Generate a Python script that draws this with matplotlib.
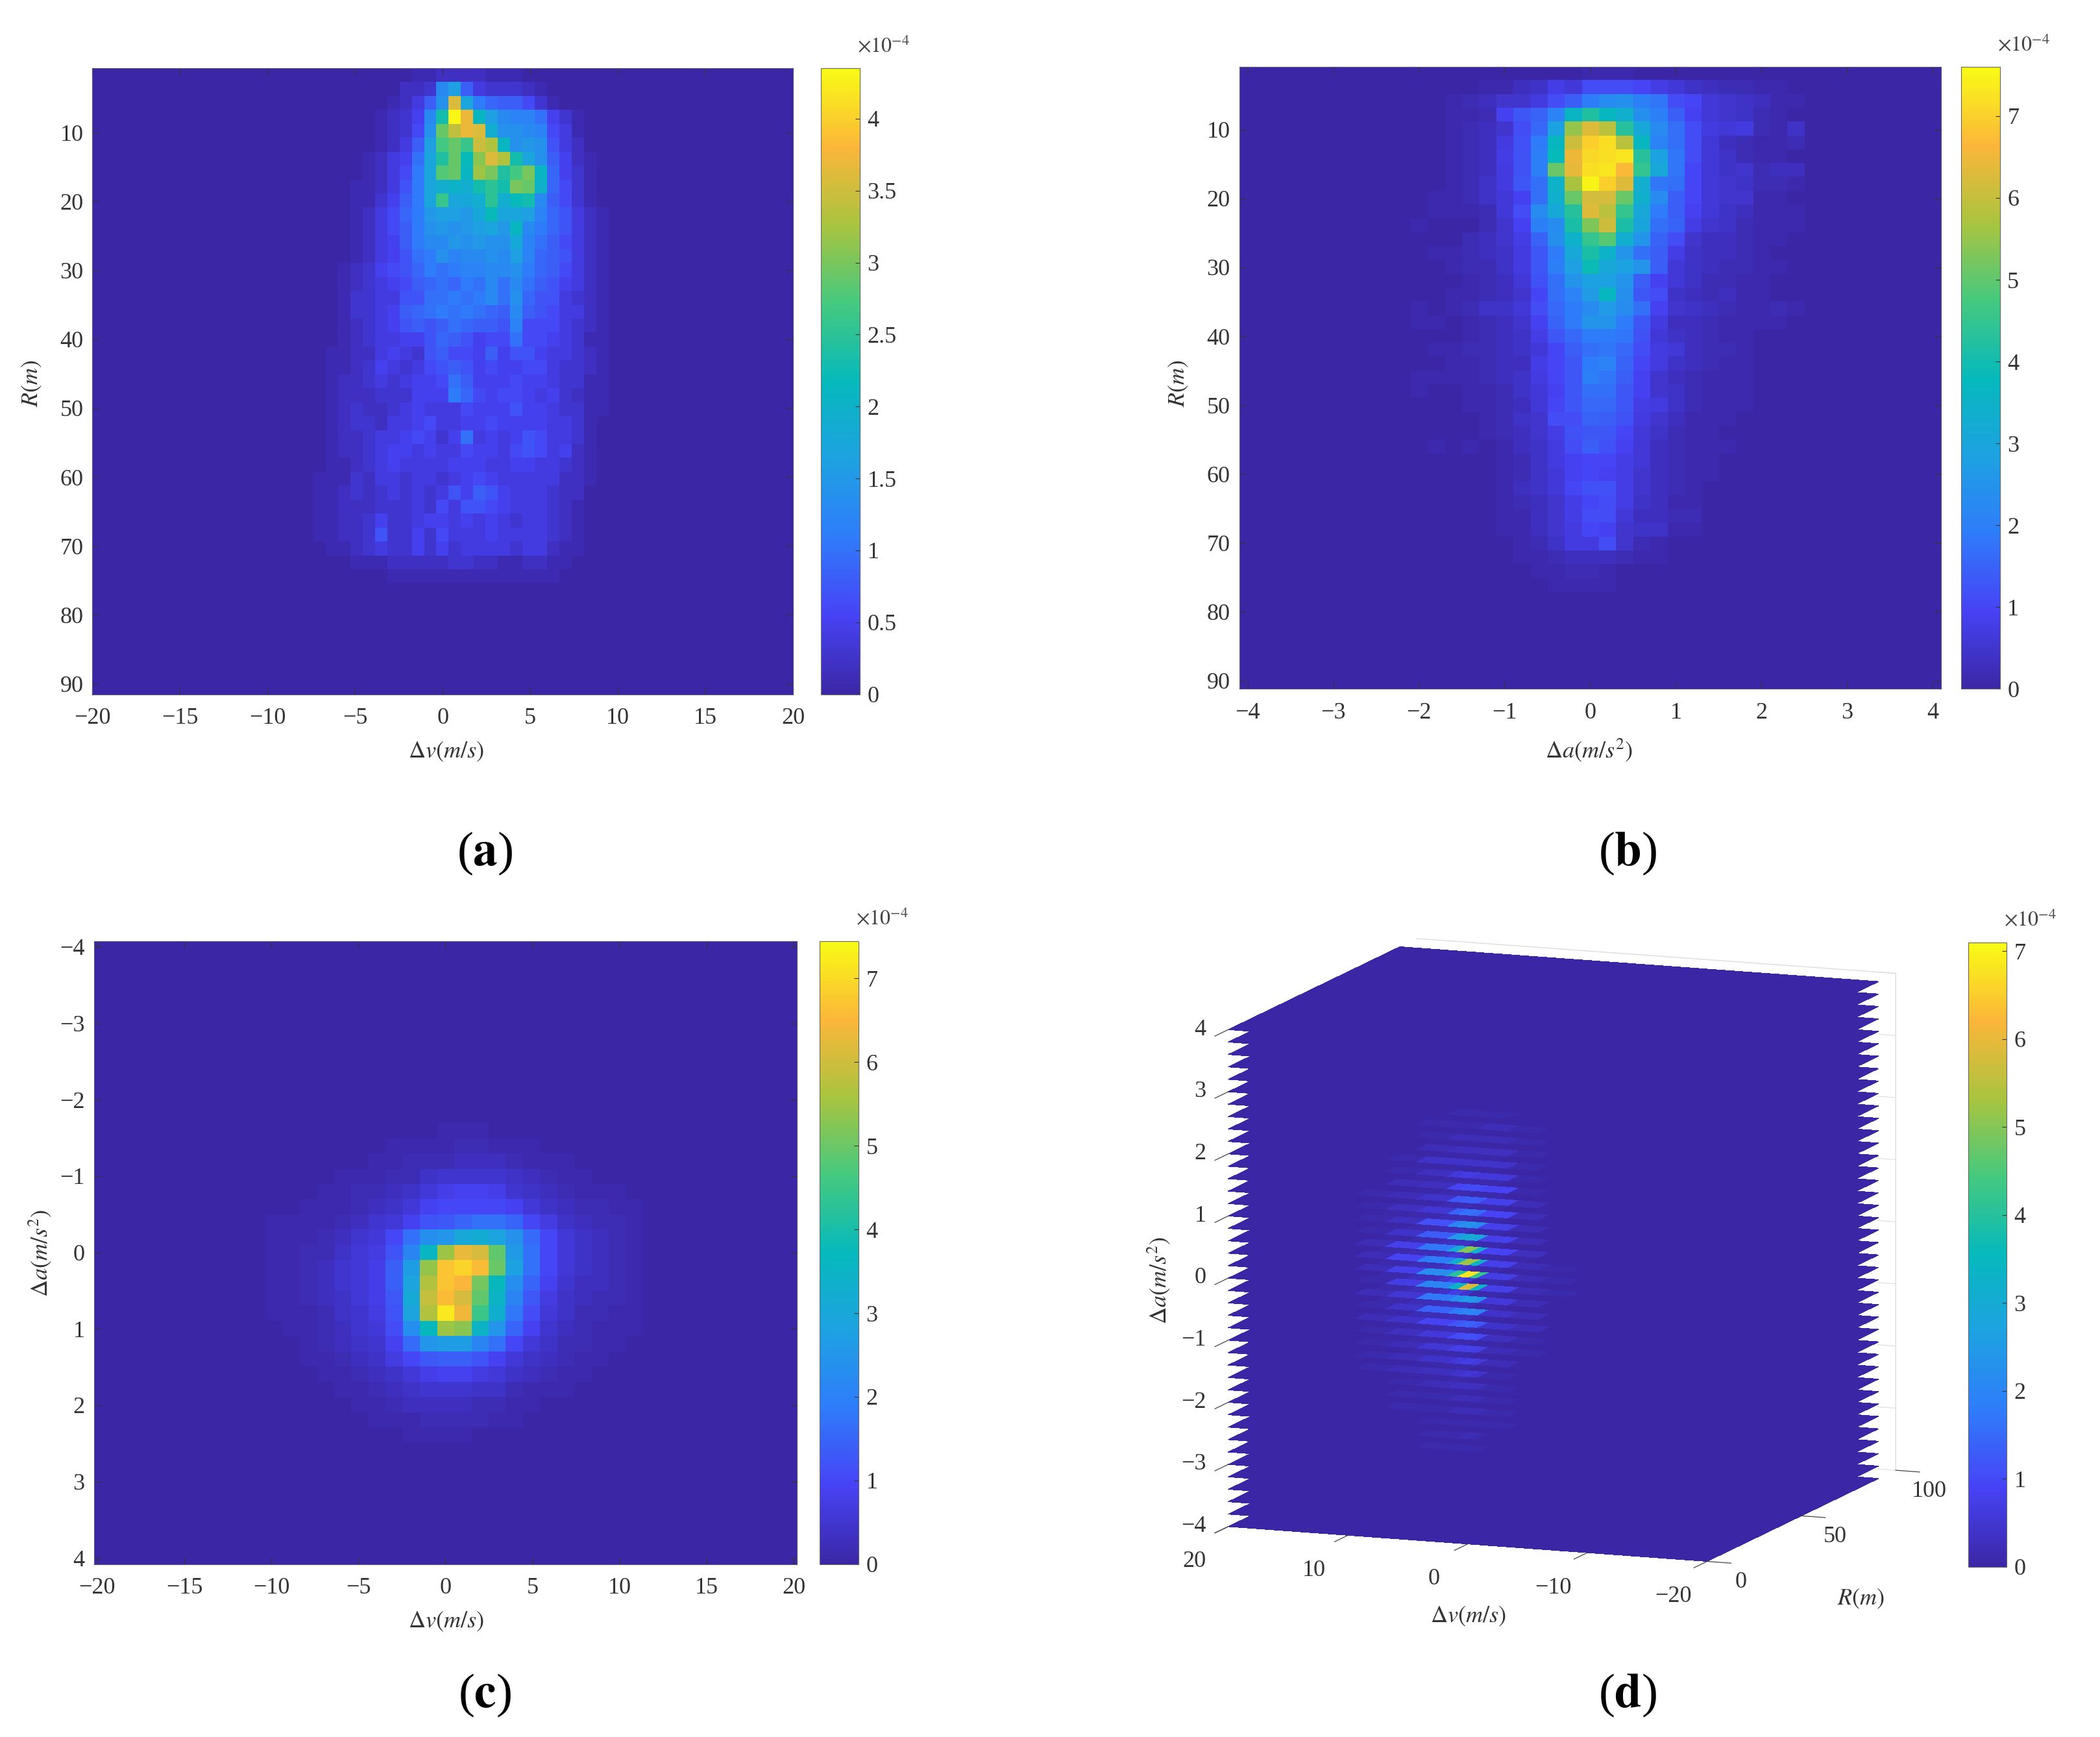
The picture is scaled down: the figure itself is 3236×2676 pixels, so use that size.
import numpy as np
import matplotlib
matplotlib.use("Agg")
import matplotlib.pyplot as plt
from matplotlib.colors import LinearSegmentedColormap, Normalize
from mpl_toolkits.mplot3d import proj3d

plt.rcParams['font.family'] = ['Liberation Serif', 'DejaVu Serif']
plt.rcParams['mathtext.fontset'] = 'stix'

# values below are in tenths of 1e-4
# (a) R against dv, rows 2 m from the top, columns start at column 17 of 57
a_rows = [
 [1,1,1,1,1,1,1,1,1,2,2,3,3,3,3,2,2,2,1,1,1,1,1,1,1,1,1,1],
 [1,1,1,1,1,1,1,1,3,3,4,14,17,9,5,4,4,4,3,2,1,1,1,1,1,1,1,1],
 [1,1,1,1,1,1,1,2,3,5,9,15,37,18,12,10,9,9,7,4,2,1,1,1,1,1,1,1],
 [1,1,1,1,1,1,2,3,4,6,14,24,44,38,22,17,14,13,13,11,6,4,2,1,1,1,1,1],
 [1,1,1,1,1,1,2,3,4,7,15,30,35,38,37,20,15,15,14,13,7,5,2,1,1,1,1,1],
 [1,1,1,1,1,1,2,3,5,9,17,28,30,27,36,34,22,15,16,15,8,5,3,1,1,1,1,1],
 [1,1,1,1,1,2,3,5,6,11,18,25,30,23,32,37,34,24,18,15,9,6,3,2,1,1,1,1],
 [1,1,1,1,1,2,3,5,7,12,18,29,30,22,33,31,25,28,31,22,10,6,4,2,1,1,1,1],
 [1,1,1,1,2,2,3,5,8,12,18,20,21,20,24,26,24,31,30,21,10,7,4,2,1,1,1,1],
 [1,1,1,1,2,2,4,6,9,12,18,27,18,19,20,26,20,23,24,14,9,7,4,2,1,1,1,1],
 [1,1,1,1,2,3,5,7,10,12,16,17,17,16,19,23,18,18,17,13,10,8,5,3,2,1,1,1],
 [1,1,1,1,2,3,5,7,9,12,15,16,15,16,17,18,16,22,14,12,10,8,5,3,2,1,1,1],
 [1,1,1,1,2,3,5,6,9,12,14,14,16,15,16,15,15,19,13,11,9,7,5,3,2,1,1,1],
 [1,1,1,1,2,3,5,6,8,11,12,15,13,14,14,15,14,17,13,10,9,8,5,3,2,1,1,1],
 [1,1,1,2,3,4,6,7,8,10,12,11,12,13,13,14,14,15,12,10,9,7,5,3,2,1,1,1],
 [1,1,1,2,3,4,5,6,7,9,10,11,10,12,11,14,11,14,11,9,8,6,5,3,2,1,1,1],
 [1,1,1,2,4,4,5,5,8,8,11,11,12,11,12,14,11,15,10,8,8,5,4,3,2,1,1,1],
 [1,1,1,2,4,4,5,6,9,10,11,12,11,12,11,10,9,14,9,8,7,5,5,3,2,1,1,1],
 [1,1,1,2,3,4,5,6,8,9,8,9,11,10,9,9,8,13,7,7,7,5,4,3,2,1,1,1],
 [1,1,1,2,3,4,5,5,6,6,8,10,9,8,6,7,7,11,7,7,6,5,4,2,2,1,1,1],
 [1,1,2,2,3,3,5,6,5,4,8,9,7,7,6,9,6,8,8,6,5,5,4,3,2,1,1,1],
 [1,1,2,2,3,4,6,5,4,5,7,8,9,8,6,7,6,6,7,7,5,4,4,3,2,1,1,1],
 [1,1,2,3,3,4,5,4,5,6,6,7,11,9,6,6,6,7,6,6,5,4,4,2,2,1,1,1],
 [1,1,2,3,3,3,4,4,4,6,6,6,12,10,7,6,7,7,6,5,6,4,3,2,2,1,1,1],
 [1,1,2,3,4,3,3,4,5,6,5,5,5,7,6,6,6,8,6,6,5,4,4,2,2,1,1,1],
 [1,1,2,3,4,4,3,5,5,6,7,5,5,6,6,7,6,6,6,6,5,5,4,2,1,1,1,1],
 [1,1,2,3,3,4,5,5,6,7,6,4,6,11,5,6,5,6,8,7,5,5,4,2,1,1,1,1],
 [1,1,2,3,3,4,5,6,6,5,6,5,5,7,6,6,5,7,8,7,5,6,3,2,1,1,1,1],
 [1,1,2,2,3,4,5,6,5,5,5,5,6,6,6,5,5,6,6,5,5,4,3,2,1,1,1,1],
 [1,2,2,2,4,3,5,5,4,5,5,4,5,6,7,6,5,5,5,5,5,3,3,2,1,1,1,1],
 [1,2,2,3,4,3,4,5,4,5,4,5,8,6,9,8,6,5,5,5,4,3,3,1,1,1,1,1],
 [1,2,2,3,3,3,4,4,4,5,4,7,5,8,8,7,6,5,5,5,4,3,2,1,1,1,1,1],
 [1,2,2,3,3,4,6,4,4,5,6,6,5,6,5,6,5,4,5,5,4,3,2,1,1,1,1,1],
 [1,2,2,3,3,4,8,4,4,6,4,7,5,5,5,6,5,5,5,5,4,3,2,1,1,1,1,1],
 [1,1,2,2,3,4,5,4,4,6,4,6,4,5,5,5,5,4,5,5,3,2,2,1,1,1,1,1],
 [1,1,1,1,2,2,2,3,3,3,3,3,4,4,3,3,2,2,3,3,2,2,1,1,1,1,1,1],
 [1,1,1,1,1,1,1,2,2,2,2,2,2,2,2,2,2,2,2,2,2,1,1,1,1,1,1,1],
]

# (b) R against da, rows 2 m from the top, columns start at column 10 of 41
b_rows = [
 [1,1,1,1,1,1,1,1,1,1,2,2,2,1,1,1,1,1,1,1,1,1,1],
 [1,1,1,1,2,2,4,5,9,7,12,12,12,11,9,7,5,4,3,3,2,2,1],
 [1,1,2,3,4,6,6,8,12,15,20,24,25,21,19,12,11,7,6,5,4,2,2],
 [1,1,2,2,3,10,14,16,22,37,43,38,35,25,21,15,10,7,6,5,3,2,1],
 [1,1,2,3,4,6,12,17,30,56,64,60,44,32,24,18,12,8,7,8,3,2,5],
 [1,1,2,3,4,8,13,20,38,62,71,73,60,38,22,18,12,7,4,3,2,2,3],
 [1,1,2,3,4,9,13,21,39,66,72,73,74,44,30,19,12,7,5,3,2,2,1],
 [1,1,2,3,4,8,13,21,52,65,73,74,68,46,32,19,11,7,5,6,3,4,4],
 [1,1,2,3,5,8,14,18,36,58,76,71,64,34,19,18,11,7,6,5,3,3,2],
 [1,2,2,3,5,7,10,18,35,52,63,63,52,35,24,15,11,7,6,6,2,2,1],
 [1,2,2,2,3,7,12,24,32,44,64,60,46,32,20,15,10,7,5,4,2,2,2],
 [2,1,1,1,3,6,10,21,24,42,54,62,42,31,18,16,9,6,5,3,2,2,2],
 [1,1,1,3,4,6,9,16,25,36,46,50,34,26,16,12,6,4,4,3,2,2,1],
 [1,2,2,3,4,5,8,14,20,32,42,36,26,18,15,9,5,4,4,3,2,1,1],
 [1,1,2,3,3,5,8,14,21,29,40,32,30,26,15,7,5,4,3,3,2,2,1],
 [1,1,1,2,3,4,7,13,18,26,30,30,26,15,10,7,5,3,3,2,2,1,1],
 [1,1,2,2,3,4,6,11,18,22,28,38,25,14,12,5,4,3,4,2,2,1,1],
 [2,1,2,3,5,5,7,12,17,20,24,28,24,18,10,6,5,4,3,2,2,3,2],
 [2,2,1,2,3,4,6,10,16,20,26,26,20,14,8,4,4,3,2,2,2,2,1],
 [1,1,1,2,3,4,5,9,14,17,20,20,19,13,7,5,4,3,2,2,1,1,1],
 [1,2,2,3,3,4,5,7,11,15,18,19,17,12,8,7,4,3,3,2,1,1,1],
 [1,1,2,2,3,4,4,9,11,14,20,22,16,11,8,5,4,3,2,2,1,1,1],
 [2,2,2,2,3,4,5,8,11,14,21,19,15,10,6,4,3,2,2,2,1,1,1],
 [2,1,1,2,2,3,5,7,10,14,18,18,14,10,6,5,3,2,2,2,1,1,1],
 [1,1,1,2,2,3,4,7,11,14,17,17,14,9,8,5,3,2,2,2,1,1,1],
 [1,1,1,1,2,3,5,6,12,12,16,15,13,8,6,4,2,2,2,1,1,1,1],
 [1,1,1,1,2,3,4,6,9,13,14,14,11,7,5,3,2,2,1,1,1,1,1],
 [1,2,1,2,1,2,4,5,8,12,15,13,10,7,4,3,2,2,2,1,1,1,1],
 [1,1,1,1,1,2,3,5,8,10,11,11,9,7,4,3,2,2,1,1,1,1,1],
 [1,1,1,1,1,2,3,5,7,10,11,10,9,6,4,3,2,2,1,1,1,1,1],
 [1,1,1,1,1,2,4,5,7,11,13,13,9,6,4,3,2,1,1,1,1,1,1],
 [1,1,1,1,1,2,3,4,6,9,11,12,9,5,4,2,2,1,1,1,1,1,1],
 [1,1,1,1,1,2,2,4,6,9,12,12,7,4,4,3,3,1,1,1,1,1,1],
 [1,1,1,1,1,2,2,4,6,8,11,10,6,5,5,2,2,1,1,1,1,1,1],
 [1,1,1,1,1,1,2,3,5,8,8,12,6,3,2,1,1,1,1,1,1,1,1],
 [1,1,1,1,1,1,2,2,3,4,4,4,3,2,2,1,1,1,1,1,1,1,1],
 [1,1,1,1,1,1,1,2,2,3,3,2,1,1,1,1,1,1,1,1,1,1,1],
 [1,1,1,1,1,1,1,1,2,2,2,2,1,1,1,1,1,1,1,1,1,1,1],
]

# (c) da against dv, rows start at row 12 of 41, columns at column 10 of 41
c_rows = [
 [1,1,1,1,1,1,1,1,1,1,2,2,2,1,1,1,1,1,1,1,1,1],
 [1,1,1,1,1,1,1,2,2,2,2,3,3,2,2,2,1,1,1,1,1,1],
 [1,1,1,1,1,1,2,2,3,3,3,4,4,4,3,2,2,2,1,1,1,1],
 [1,1,1,1,2,2,2,3,3,5,6,6,6,6,5,4,3,2,2,1,1,1],
 [1,1,1,2,2,3,3,4,5,7,9,10,10,9,6,5,4,3,2,2,2,1],
 [1,1,2,2,2,3,4,5,7,10,11,11,11,11,10,7,5,4,3,3,2,2],
 [2,2,2,2,3,4,6,7,10,13,14,16,18,18,16,11,8,5,4,3,3,2],
 [2,2,2,3,4,6,7,11,18,24,26,31,33,30,25,17,11,7,5,4,3,2],
 [2,2,3,3,5,7,8,13,22,37,56,64,62,50,27,18,11,7,5,4,3,2],
 [2,2,3,4,6,7,9,15,28,55,68,70,67,51,29,18,11,7,5,4,3,2],
 [2,2,3,4,6,7,9,15,30,58,68,66,52,38,24,16,10,6,4,4,3,2],
 [2,2,3,4,5,7,9,14,32,60,67,62,50,36,22,14,8,5,4,3,3,2],
 [2,2,2,3,5,6,8,13,30,58,73,65,46,34,19,12,7,5,3,3,2,2],
 [1,2,2,3,4,6,7,12,24,38,56,54,36,26,16,10,6,4,3,2,2,2],
 [1,1,2,3,4,5,6,10,17,26,28,28,22,18,11,7,5,3,3,2,2,1],
 [1,1,2,2,3,4,5,8,11,14,15,15,13,10,7,5,4,3,2,2,1,1],
 [1,1,1,2,2,3,4,5,7,9,10,10,8,7,5,4,3,2,2,1,1,1],
 [1,1,1,1,2,2,3,4,5,6,6,6,5,5,3,2,2,2,1,1,1,1],
 [1,1,1,1,1,2,2,3,4,4,4,4,3,3,2,2,1,1,1,1,1,1],
 [1,1,1,1,1,1,2,2,2,3,3,3,3,2,2,1,1,1,1,1,1,1],
 [1,1,1,1,1,1,1,1,2,2,2,2,1,1,1,1,1,1,1,1,1,1],
]

# (d) stacked da slices, first row is da = 2.8, going down by 0.2
d_rows = [
 [0,0,0,1,1,1,1,0,0],
 [0,0,1,1,1,1,2,1,0],
 [0,0,1,2,2,2,2,1,0],
 [0,0,2,3,3,3,3,1,0],
 [0,1,4,4,4,4,4,1,0],
 [0,1,3,6,7,6,6,1,0],
 [0,2,3,9,10,10,9,1,0],
 [1,2,4,12,13,13,8,2,0],
 [1,3,5,14,16,15,9,2,0],
 [1,3,11,20,23,21,8,2,0],
 [1,4,13,24,30,28,8,2,0],
 [2,8,17,30,50,32,9,3,0],
 [2,9,18,30,52,33,8,2,1],
 [2,8,22,40,68,42,7,2,1],
 [1,7,20,34,58,34,8,2,1],
 [2,5,17,22,25,23,6,2,0],
 [1,4,14,18,20,19,4,2,0],
 [2,4,9,12,14,12,4,2,0],
 [1,3,6,10,11,10,3,1,0],
 [1,2,5,8,8,7,2,1,0],
 [1,2,4,6,7,6,2,0,0],
 [1,2,3,4,5,4,1,0,0],
 [0,1,2,3,3,3,1,0,0],
 [0,1,1,2,2,2,1,0,0],
 [0,1,1,2,2,2,1,0,0],
 [0,0,1,1,1,1,1,0,0],
 [0,0,1,1,2,1,0,0,0],
 [0,0,1,1,1,1,0,0,0],
]
d_dv_edges = [10.24, 7.68, 5.12, 2.56, 1.7, 0.7, 0, -2.56, -5.12, -7.68]
d_r_edges = [0, 5, 12, 16, 91]
d_r_weight = [0.12, 1.0, 0.45, 0.0]
d_slices = np.arange(4, -4.01, -0.2)

r_ticks = [10, 20, 30, 40, 50, 60, 70, 80, 90]
dv_ticks = [-20, -15, -10, -5, 0, 5, 10, 15, 20]
da_ticks = [-4, -3, -2, -1, 0, 1, 2, 3, 4]

parula = LinearSegmentedColormap.from_list("parula", [
    (0.0, "#3B27A6"), (0.125, "#4743F5"), (0.25, "#2F7CFA"), (0.375, "#1EA2E2"),
    (0.5, "#06B9BC"), (0.625, "#45C97F"), (0.75, "#A9C43F"), (0.875, "#FBB63A"),
    (1.0, "#F9FB15")])

W, H = 1568.0, 1296.0


def box(x0, y0, x1, y1):
    # figure rectangle from positions in the 1568x1296 view
    return [x0 / W, 1 - y1 / H, (x1 - x0) / W, (y1 - y0) / H]


def label(x, y, s, **kw):
    fig.text(x / W, 1 - y / H, s, ha="center", va="center", **kw)


def fill(rows, first_row, first_col, nrow, ncol):
    grid = np.zeros((nrow, ncol))
    for i, row in enumerate(rows):
        grid[first_row + i, first_col:first_col + len(row)] = np.maximum(np.array(row) - 1, 0)
    return grid / 10.0


def add_cbar(im, rect, ticks, labels):
    cax = fig.add_axes(box(*rect))
    cb = fig.colorbar(im, cax=cax)
    cb.set_ticks(ticks)
    cb.set_ticklabels(labels)
    cb.ax.tick_params(labelsize=TICK, length=5, width=0.8, direction="in", pad=8, colors="#333333")
    cb.outline.set_edgecolor("#666666")
    cb.outline.set_linewidth(0.8)
    fig.text((rect[2] - 2) / W, 1 - (rect[1] - 16) / H, r"$\times 10^{-4}$", fontsize=23,
             ha="left", va="center", color="#444444")


def heat(rect, grid, extent, vmax, xticks, yticks):
    ax = fig.add_axes(box(*rect))
    im = ax.imshow(grid, extent=extent, aspect="auto", cmap=parula, vmin=0, vmax=vmax,
                   interpolation="nearest", origin="upper")
    ax.set_xticks(xticks)
    ax.set_yticks(yticks)
    ax.tick_params(labelsize=TICK, direction="in", length=7, width=0.8, top=True, right=True,
                   color="#333333", labelcolor="#333333")
    ax.tick_params(axis="x", pad=15)
    ax.tick_params(axis="y", pad=10)
    for s in ax.spines.values():
        s.set_color("#555577")
        s.set_linewidth(0.8)
    return im


TICK = 26
LAB = 26
fig = plt.figure(figsize=(32.37, 26.76), dpi=100)

# (a)
im = heat((69, 51, 592, 518), fill(a_rows, 0, 17, 45, 57), (-20, 20, 91.5, 0.7), 4.35, dv_ticks, r_ticks)
add_cbar(im, (613, 51, 642, 518), [0, 0.5, 1, 1.5, 2, 2.5, 3, 3.5, 4],
         ["0", "0.5", "1", "1.5", "2", "2.5", "3", "3.5", "4"])
label(333, 561, r"$\Delta v(m/s)$", fontsize=LAB, color="#333333")
label(24, 286, r"$R(m)$", fontsize=LAB, rotation=90, color="#333333")

# (b)
im = heat((925, 50, 1449, 514), fill(b_rows, 0, 10, 45, 41), (-4.1, 4.1, 91.2, 0.9), 7.6, da_ticks, r_ticks)
add_cbar(im, (1464, 50, 1493, 514), list(range(8)), [str(i) for i in range(8)])
label(1186, 560, r"$\Delta a(m/s^2)$", fontsize=LAB, color="#333333")
label(880, 286, r"$R(m)$", fontsize=LAB, rotation=90, color="#333333")

# (c)
im = heat((70, 702, 595, 1167), fill(c_rows, 12, 10, 41, 41), (-20.2, 20.2, 4.08, -4.08), 7.45, dv_ticks, da_ticks)
add_cbar(im, (612, 702, 641, 1167), list(range(8)), [str(i) for i in range(8)])
label(333, 1210, r"$\Delta v(m/s)$", fontsize=LAB, color="#333333")
label(30, 935, r"$\Delta a(m/s^2)$", fontsize=LAB, rotation=90, color="#333333")

# (d) stack of da slices seen from above
ax3 = fig.add_axes(box(847.5, 631, 1467.5, 1251), projection="3d", proj_type="ortho", computed_zorder=False)
ax3.set_box_aspect((387, 393, 381), zoom=1.04)
ax3.view_init(elev=10.8, azim=-68.8)
ax3.patch.set_alpha(0)
norm = Normalize(0, 7.1)
xe = np.array([20] + d_dv_edges + [-20.0])
ye = np.array(d_r_edges, dtype=float)
X, Y = np.meshgrid(xe, ye)
for n, da in enumerate(d_slices[::-1]):
    idx = len(d_slices) - 1 - n
    vals = np.zeros((len(ye) - 1, len(xe) - 1))
    if 6 <= idx < 6 + len(d_rows):
        row = np.array(d_rows[idx - 6]) / 10.0
        for j, wgt in enumerate(d_r_weight):
            vals[j, 1:1 + len(row)] = row * wgt
    ax3.plot_surface(X, Y, np.full(X.shape, da), facecolors=parula(norm(vals)), shade=False,
                     rstride=1, cstride=1, antialiased=False, linewidth=0, zorder=1 + n * 0.01)

grey = "#DDDDDD"
ax3.plot([20, -20, -20], [100, 100, 100], [4, 4, -4], color=grey, lw=1, zorder=0.5)
for t in da_ticks:
    ax3.plot([-20, -18.5], [100, 100], [t, t], color=grey, lw=0.8, zorder=0.5)
    ax3.plot([20, 20], [0, -7], [t, t], color="#444444", lw=0.9, zorder=2)
for t in [-20, -10, 0, 10, 20]:
    ax3.plot([t, t], [0, -7], [-4, -4], color="#444444", lw=0.9, zorder=2)
for t in [0, 50, 100]:
    ax3.plot([-20, -22], [t, t], [-4, -4], color="#444444", lw=0.9, zorder=2)
ax3.set_xlim(20, -20)
ax3.set_ylim(0, 100)
ax3.set_zlim(-4, 4)
ax3.set_axis_off()

# tick labels of the 3d box, placed through its projection
fig.canvas.draw()


def label3d(x, y, z, s, ha):
    px, py, _ = proj3d.proj_transform(x, y, z, ax3.M)
    dx, dy = ax3.transData.transform((px, py))
    fig.text(dx / fig.bbox.width, dy / fig.bbox.height, s.replace("-", "\u2212"), ha=ha, va="center",
             fontsize=TICK, color="#333333")


for t in da_ticks:
    label3d(20, -11.7, t + 0.175, str(t), "right")
for t in [-20, -10, 0, 10, 20]:
    label3d(t, -18, -4.30, str(t), "center")
for t in [0, 50, 100]:
    label3d(-22.8, t, -4.30, str(t), "center")

im = plt.cm.ScalarMappable(norm=norm, cmap=parula)
add_cbar(im, (1469, 703, 1498, 1169), list(range(8)), [str(i) for i in range(8)])
label(1096, 1206, r"$\Delta v(m/s)$", fontsize=LAB, color="#333333")
label(1389, 1193, r"$R(m)$", fontsize=LAB, color="#333333")
label(865, 955, r"$\Delta a(m/s^2)$", fontsize=LAB, rotation=90, color="#333333")

# panel letters
for x, y, s in [(362, 637, "a"), (1215, 637, "b"), (362, 1265, "c"), (1215, 1265, "d")]:
    label(x, y, "(" + r"$\mathbf{" + s + "}$" + ")", fontsize=54, color="black")

fig.savefig("out.png", dpi=100, facecolor="white")
